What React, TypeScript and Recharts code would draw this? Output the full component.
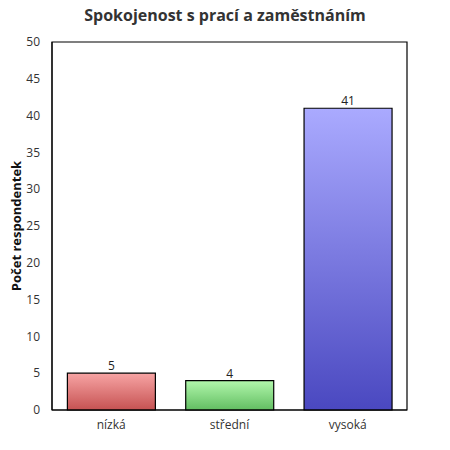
import { BarChart, Bar, XAxis, YAxis, Cell, LabelList, ReferenceArea } from "recharts";

const categories = ["nízká", "střední", "vysoká"];
const counts = [5, 4, 41];
const yTicks = [0, 5, 10, 15, 20, 25, 30, 35, 40, 45, 50];

const gradients = [
  { id: "gLow", top: "#f7a4a4", bottom: "#c65252" },
  { id: "gMid", top: "#b2f7ac", bottom: "#62be62" },
  { id: "gHigh", top: "#aaaaff", bottom: "#4a48c0" },
];

const data = categories.map((name, i) => ({ name, value: counts[i] }));

const font = "'Open Sans', sans-serif";

export default function App() {
  return (
    <div style={{ position: "absolute", left: 0, top: 0, width: 450, height: 450, background: "#fff", fontFamily: font }}>
      <div
        style={{
          position: "absolute",
          top: 4,
          width: 450,
          textAlign: "center",
          fontSize: 16,
          fontWeight: 700,
          color: "#333",
        }}
      >
        Spokojenost s prací a zaměstnáním
      </div>
      <BarChart
        width={450}
        height={450}
        data={data}
        margin={{ top: 42, right: 43, left: 0, bottom: 0 }}
        barCategoryGap="13%"
      >
        <defs>
          {gradients.map((g) => (
            <linearGradient key={g.id} id={g.id} x1="0" y1="0" x2="0" y2="1">
              <stop offset="0%" stopColor={g.top} />
              <stop offset="100%" stopColor={g.bottom} />
            </linearGradient>
          ))}
        </defs>
        <XAxis
          dataKey="name"
          height={40}
          tickLine={false}
          axisLine={{ stroke: "#000" }}
          tick={{ fill: "#333", fontSize: 12, fontFamily: font }}
          tickMargin={4}
        />
        <YAxis
          width={52}
          domain={[0, 50]}
          ticks={yTicks}
          interval={0}
          tickLine={false}
          axisLine={{ stroke: "#000" }}
          tick={{ fill: "#333", fontSize: 12, fontFamily: font }}
          tickMargin={6}
          label={{
            value: "Počet respondentek",
            angle: -90,
            position: "insideLeft",
            offset: 16,
            style: { textAnchor: "middle", fill: "#111", fontSize: 13, fontWeight: 700, fontFamily: font },
          }}
        />
        <ReferenceArea y1={0} y2={50} fill="none" stroke="#000" strokeWidth={1.2} ifOverflow="visible" />
        <Bar dataKey="value" stroke="#000" strokeWidth={1.2} isAnimationActive={false}>
          {data.map((d, i) => (
            <Cell key={d.name} fill={`url(#${gradients[i].id})`} />
          ))}
          <LabelList dataKey="value" position="top" offset={3} style={{ fill: "#222", fontSize: 12, fontFamily: font }} />
        </Bar>
      </BarChart>
    </div>
  );
}
